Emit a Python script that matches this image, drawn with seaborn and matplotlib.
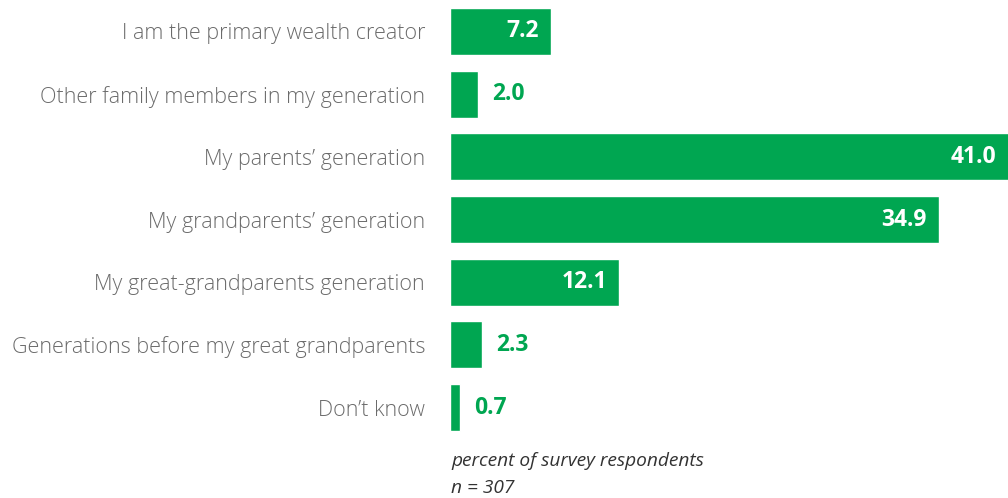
import matplotlib
matplotlib.use("Agg")
import matplotlib.pyplot as plt
import seaborn as sns
import pandas as pd

categories = [
    "I am the primary wealth creator",
    "Other family members in my generation",
    "My parents\u2019 generation",
    "My grandparents\u2019 generation",
    "My great-grandparents generation",
    "Generations before my great grandparents",
    "Don\u2019t know",
]
values = [7.2, 2.0, 41.0, 34.9, 12.1, 2.3, 0.7]
note_lines = ["percent of survey respondents", "n = 307"]

GREEN = "#00A651"
GRAY = "#6b6b6b"

sns.set_theme(style="white")
plt.rcParams["font.family"] = ["Open Sans", "DejaVu Sans"]

df = pd.DataFrame({"category": categories, "value": values})

fig = plt.figure(figsize=(10.08, 4.98), dpi=100)
ax = fig.add_axes([450 / 1008, 59 / 498, 558 / 1008, 439 / 498])
sns.barplot(data=df, y="category", x="value", color=GREEN, saturation=1,
            width=0.75, ax=ax, orient="h")

xmax = 558 / 14.0
ax.set_xlim(0, xmax)
ax.set_ylim(6.5, -0.5)
for s in ax.spines.values():
    s.set_visible(False)
ax.set_xticks([])
ax.set_xlabel("")
ax.set_ylabel("")
ax.tick_params(axis="y", length=0, pad=18, labelsize=15.5, labelcolor=GRAY)
for lab in ax.get_yticklabels():
    lab.set_fontweight("light")

px = xmax / 558
for i, v in enumerate(values):
    if v >= 5:
        xe = min(v, xmax)
        ax.text(xe - 12 * px, i, f"{v:.1f}", ha="right", va="center",
                color="white", fontsize=16.5, fontweight="bold")
    else:
        ax.text(v + 14 * px, i, f"{v:.1f}", ha="left", va="center",
                color=GREEN, fontsize=16.5, fontweight="bold")

fig.text(451 / 1008, 1 - 461 / 498, note_lines[0], ha="left", va="center",
         fontsize=13.8, style="italic", color="#333333")
fig.text(451 / 1008, 1 - 488 / 498, note_lines[1], ha="left", va="center",
         fontsize=13.8, style="italic", color="#333333")

fig.savefig("out.png", dpi=100)
